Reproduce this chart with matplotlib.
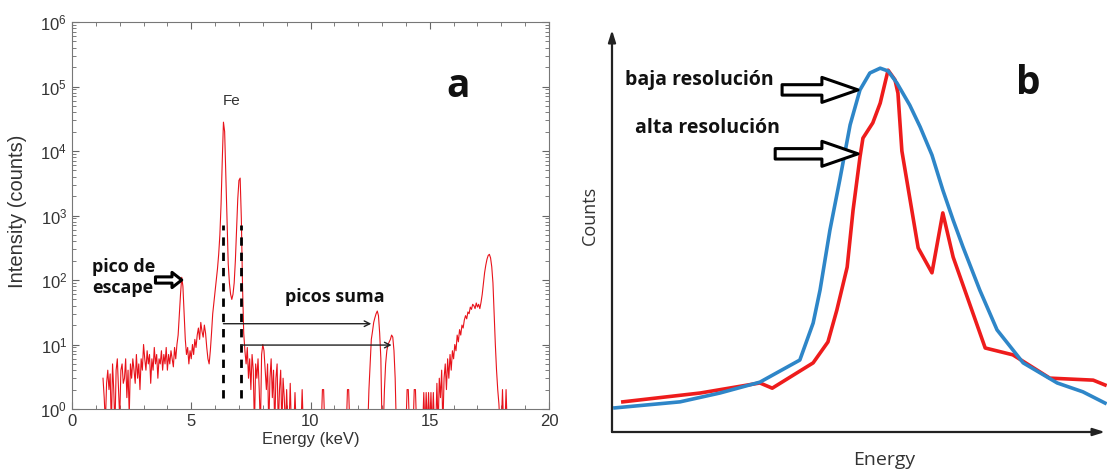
import matplotlib
matplotlib.use("Agg")
import matplotlib.pyplot as plt
import numpy as np

# espectro (panel a): energia en keV cada 0.05 keV desde 1.30 hasta 18.30
energy_start = 1.3
energy_step = 0.05
counts = [
    3, 1.5, 0.6, 2.5, 4, 2, 3.5, 0.5, 5, 2, 0.5, 4, 6, 2,                        # 1.30 - 1.95
    0.7, 4, 5, 2.5, 3, 6, 1.5, 4, 0.8, 5, 3, 6, 4, 2.5, 7, 3, 5, 2, 6, 4,        # 2.00 - 2.95
    10, 6, 4, 8, 5, 7, 2.5, 6, 4, 9, 5, 7, 3, 6, 5, 8, 4, 7, 5, 9,               # 3.00 - 3.95
    4, 7, 5, 8, 6, 4.5, 9, 6, 10, 14, 30, 60, 110, 80, 30, 12, 7, 9, 5, 8,       # 4.00 - 4.95
    6, 10, 7, 12, 9, 14, 18, 12, 22, 16, 13, 20, 15, 9, 6, 5, 8, 15, 30, 45,     # 5.00 - 5.95
    70, 100, 150, 250, 500, 1500, 7000, 28000, 20000, 4000,
    700, 180, 90, 60, 50, 60, 90, 200, 600, 1800,                                # 6.00 - 6.95
    3500, 3800, 900, 80, 15, 8, 5, 9, 3, 6, 2, 7, 4, 0.5, 5, 3, 6, 2, 0.5, 7,    # 7.00 - 7.95
    10, 8, 4, 2, 5, 0.5, 3, 6, 1.5, 4, 0.5, 3, 5, 0.5, 2, 4, 0.5, 3, 1.5, 0.5,   # 8.00 - 8.95
    2, 0.5, 0.5, 2.5, 0.5, 0.5, 0.5, 1.8, 0.5, 0.5,
    0.5, 0.5, 0.5, 2, 0.5, 0.5, 0.5, 0.5, 0.5, 0.5,                              # 9.00 - 9.95
    0.5, 0.5, 0.5, 0.5, 0.5, 0.5, 0.5, 0.5, 0.5, 0.5,
    2, 2, 0.5, 0.5, 0.5, 0.5, 0.5, 0.5, 0.5, 0.5,                                # 10.00 - 10.95
    0.5, 0.5, 0.5, 0.5, 0.5, 0.5, 0.5, 0.5, 0.5, 0.5,
    0.5, 2, 2, 0.5, 0.5, 0.5, 0.5, 0.5, 0.5, 0.5,                                # 11.00 - 11.95
    0.5, 0.5, 0.5, 0.5, 0.5, 0.5, 0.5, 0.5, 0.5,
    2, 5, 12, 16, 22, 26, 30, 33, 28, 15, 6,                                     # 12.00 - 12.95
    0.5, 0.5, 2, 5, 8, 10, 11, 12, 14, 13, 8, 3,
    0.5, 0.5, 0.5, 0.5, 0.5, 0.5, 0.5, 0.5,                                      # 13.00 - 13.95
    0.5, 2, 2, 0.5, 0.5, 0.5, 0.5, 2, 2, 0.5,
    0.5, 0.5, 0.5, 0.5, 0.5, 1.8, 0.5, 1.8, 0.5, 1.8,                            # 14.00 - 14.95
    0.5, 1.8, 0.5, 1.8, 0.5, 0.5, 2.5, 0.5, 3, 1.5, 4, 0.5, 3, 5, 2, 6, 3, 7, 4, 8,  # 15.00 - 15.95
    6, 10, 8, 14, 11, 17, 14, 20, 18, 24, 28, 25, 32, 30, 38, 35, 42, 40, 36, 44,    # 16.00 - 16.95
    38, 42, 36, 45, 60, 90, 130, 170, 210, 240, 250, 220, 160, 90, 30, 10, 4, 2, 1.2, 0.5,  # 17.00 - 17.95
    0.5, 2, 0.5, 0.5, 2, 0.5, 0.5,                                               # 18.00 - 18.30
]
energy = energy_start + energy_step * np.arange(len(counts))

fe_lines = [6.35, 7.07]          # Ka y Kb del Fe
sum_peaks = [12.55, 13.4]        # picos suma
sum_levels = [21, 9.8]
escape_peak = (4.6, 100)

# panel b: energia y cuentas en unidades arbitrarias (0-100)
low_res_x = [0.6, 13.8, 21.9, 30.0, 38.1, 40.8, 42.2, 44.2, 46.2, 48.3, 50.3, 52.3,
             54.4, 56.0, 57.8, 60.4, 62.5, 64.9, 67.1, 69.2, 71.2, 74.6, 78.1,
             83.4, 90.3, 95.5, 100]
low_res_y = [6.0, 7.5, 9.7, 12.4, 17.9, 27.1, 35.3, 50.2, 62.7, 76.4, 85.1, 89.3,
             90.5, 89.8, 86.8, 81.3, 75.9, 68.9, 60.2, 52.7, 46.0, 35.3, 25.4,
             17.2, 12.2, 10.0, 7.2]
high_res_x = [2.2, 17.9, 30.0, 32.5, 40.8, 43.8, 45.6, 47.7, 48.9, 50.3, 50.9, 52.9,
              54.4, 56.0, 57.4, 58.0, 58.8, 62.1, 64.9, 67.1, 69.2, 75.7, 81.3,
              88.8, 97.6, 100]
high_res_y = [7.5, 9.7, 12.2, 10.9, 17.2, 22.4, 30.3, 41.0, 55.2, 68.4, 73.1, 76.9,
              81.8, 90.0, 87.6, 84.3, 69.9, 45.8, 39.6, 54.5, 43.5, 20.9, 19.2,
              13.4, 12.9, 11.7]

W, H = 1107, 473
fig = plt.figure(figsize=(W / 100, H / 100), dpi=100)

bold = dict(family=["Open Sans", "DejaVu Sans"], weight="bold", color="#111111")

# ---------------- panel a ----------------
ax = fig.add_axes([72 / W, 1 - 409 / H, (549 - 72) / W, (409 - 22) / H])
ax.plot(energy, counts, color="#e8131b", lw=0.8)
ax.set_yscale("log")
ax.set_xlim(0, 20)
ax.set_ylim(1, 1e6)
ax.set_xticks([0, 5, 10, 15, 20])
ax.set_xticks(np.arange(0, 21, 1), minor=True)
ax.tick_params(which="both", direction="in", top=True, right=True,
               colors="#666666", labelcolor="#333333", labelsize=12)
ax.tick_params(which="major", length=5)
ax.tick_params(which="minor", length=3)
for s in ax.spines.values():
    s.set_color("#777777")
for lab in ax.get_xticklabels() + ax.get_yticklabels():
    lab.set_family("Liberation Sans")
ax.set_xlabel("Energy (keV)", family="Liberation Sans", fontsize=12,
              color="#333333", labelpad=2)
ax.set_ylabel("Intensity (counts)", family="Liberation Sans", fontsize=14.5,
              color="#333333")
ax.yaxis.set_label_coords(-0.094, 0.51)

for x in fe_lines:
    ax.plot([x, x], [1.5, 700], color="black", lw=2, ls=(0, (3, 2.5)))
for x0, x1, y in zip(fe_lines, sum_peaks, sum_levels):
    ax.annotate("", xy=(x1, y), xytext=(x0, y),
                arrowprops=dict(arrowstyle="->", color="#222222", lw=1,
                                shrinkA=0, shrinkB=0))

ax.text(6.7, 6e4, "Fe", family="Liberation Sans", fontsize=11,
        color="#333333", ha="center", va="center")
ax.text(11.0, 55, "picos suma", fontsize=13, ha="center", va="center", **bold)
ax.text(0.85, 110, "pico de\nescape", fontsize=13, ha="left", va="center",
        linespacing=1.2, **bold)
ax.annotate("", xy=escape_peak, xytext=(3.5, escape_peak[1]),
            arrowprops=dict(arrowstyle="simple,head_length=7,head_width=11,tail_width=4.5",
                            mutation_scale=1, fc="white", ec="black", lw=2.2,
                            shrinkA=0, shrinkB=0))
fig.text(458 / W, 1 - 86 / H, "a", fontsize=28, ha="center", va="center", **bold)

# ---------------- panel b ----------------
bx = fig.add_axes([612 / W, 1 - 432 / H, (1105 - 612) / W, (432 - 30) / H])
bx.set_xlim(0, 100)
bx.set_ylim(0, 100)
bx.axis("off")
bx.plot(high_res_x, high_res_y, color="#ee1c1c", lw=2.6, clip_on=False)
bx.plot(low_res_x, low_res_y, color="#2e86c8", lw=2.6, clip_on=False)
for end in [(0, 100), (100, 0)]:
    bx.annotate("", xy=end, xytext=(0, 0),
                arrowprops=dict(arrowstyle="-|>,head_length=0.7,head_width=0.22",
                                color="#222222", lw=1.6, shrinkA=0, shrinkB=0),
                annotation_clip=False)

bx.text(2.6, 87.6, "baja resolución", fontsize=14, ha="left", va="center", **bold)
bx.text(4.7, 75.6, "alta resolución", fontsize=14, ha="left", va="center", **bold)
block = "simple,head_length=26,head_width=18,tail_width=7.5"
for x0, x1, y in [(34.5, 49.9, 85.1), (33.1, 49.9, 69.2)]:
    bx.annotate("", xy=(x1, y), xytext=(x0, y),
                arrowprops=dict(arrowstyle=block, mutation_scale=1, fc="white",
                                ec="black", lw=2.2, shrinkA=0, shrinkB=0))

fig.text(590 / W, 1 - 215 / H, "Counts", rotation=90, fontsize=13,
         family=["Open Sans", "DejaVu Sans"], color="#333333", ha="center", va="center")
fig.text(884 / W, 1 - 460 / H, "Energy", fontsize=14,
         family=["Open Sans", "DejaVu Sans"], color="#333333", ha="center", va="center")
fig.text(1028 / W, 1 - 84 / H, "b", fontsize=28, ha="center", va="center", **bold)

fig.savefig("out.png", dpi=100, facecolor="white")
